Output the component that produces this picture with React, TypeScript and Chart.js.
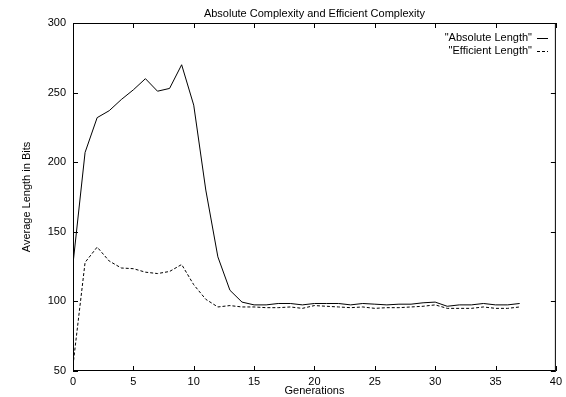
import React, { useEffect, useRef } from "react";
import { Chart, registerables } from "chart.js";

Chart.register(...registerables);

const generations = [
  0, 1, 2, 3, 4, 5, 6, 7, 8, 9, 10, 11, 12, 13, 14, 15, 16, 17, 18, 19,
  20, 21, 22, 23, 24, 25, 26, 27, 28, 29, 30, 31, 32, 33, 34, 35, 36, 37,
];
const absoluteLength = [
  127, 207, 232, 237, 245, 252, 260, 251, 253, 270, 241, 180, 132, 108, 99.5,
  97.5, 97.5, 98.5, 98.5, 97.5, 98.5, 98.5, 98.5, 97.5, 98.5, 98, 97.5, 98, 98,
  99, 99.5, 96.5, 97.5, 97.5, 98.5, 97.5, 97.5, 98.5,
];
const efficientLength = [
  54, 128, 139, 129, 124, 123.5, 121, 120, 121.5, 126.5, 112, 101.5, 96, 97,
  96, 96, 95.5, 95.5, 96, 95, 97, 96.5, 96, 95.5, 96, 95, 95.5, 95.5, 96, 96.5,
  97.5, 95, 95, 95, 96, 95, 95, 96,
];
const xTicks = [0, 5, 10, 15, 20, 25, 30, 35, 40];
const yTicks = [50, 100, 150, 200, 250, 300];
const chartTitle = "Absolute Complexity and Efficient Complexity";
const xTitle = "Generations";
const yTitle = "Average Length in Bits";
const seriesLabels = ['"Absolute Length"', '"Efficient Length"'];

const FONT = '"Liberation Sans", Arial, Helvetica, sans-serif';

const framePlugin = {
  id: "gnuplotFrame",
  afterDraw(chart: any) {
    const { ctx, chartArea } = chart;
    const { left, right, top, bottom } = chartArea;
    const xs = chart.scales.x;
    const ys = chart.scales.y;
    ctx.save();
    ctx.strokeStyle = "#000";
    ctx.lineWidth = 1;
    ctx.setLineDash([]);
    ctx.strokeRect(left + 0.5, top + 0.5, right - left - 1, bottom - top - 1);
    const tl = 5;
    ctx.beginPath();
    xTicks.forEach((v) => {
      const px = Math.round(xs.getPixelForValue(v)) + 0.5;
      ctx.moveTo(px, bottom);
      ctx.lineTo(px, bottom - tl);
      ctx.moveTo(px, top);
      ctx.lineTo(px, top + tl);
    });
    yTicks.forEach((v) => {
      const py = Math.round(ys.getPixelForValue(v)) + 0.5;
      ctx.moveTo(left, py);
      ctx.lineTo(left + tl, py);
      ctx.moveTo(right, py);
      ctx.lineTo(right - tl, py);
    });
    ctx.stroke();

    // texts
    ctx.fillStyle = "#000";
    ctx.font = `11px ${FONT}`;
    ctx.textAlign = "center";
    ctx.textBaseline = "middle";
    ctx.fillText(chartTitle, (left + right) / 2, 14);
    ctx.fillText(xTitle, (left + right) / 2, 391);
    ctx.save();
    ctx.translate(27, (top + bottom) / 2);
    ctx.rotate(-Math.PI / 2);
    ctx.fillText(yTitle, 0, 0);
    ctx.restore();

    // legend
    const legendY = [38, 51];
    ctx.textAlign = "right";
    seriesLabels.forEach((lbl, i) => {
      ctx.fillText(lbl, 532, legendY[i]);
      ctx.beginPath();
      ctx.setLineDash(i === 0 ? [] : [3, 2]);
      ctx.moveTo(537, legendY[i] + 0.5);
      ctx.lineTo(548, legendY[i] + 0.5);
      ctx.stroke();
    });
    ctx.restore();
  },
};

export default function App() {
  const canvasRef = useRef<HTMLCanvasElement | null>(null);

  useEffect(() => {
    const canvas = canvasRef.current;
    if (!canvas) return;
    const chart = new Chart(canvas, {
      type: "line",
      data: {
        datasets: [
          {
            label: seriesLabels[0],
            data: generations.map((g, i) => ({ x: g, y: absoluteLength[i] })),
            borderColor: "#000",
            borderWidth: 1,
            pointRadius: 0,
            tension: 0,
            fill: false,
          },
          {
            label: seriesLabels[1],
            data: generations.map((g, i) => ({ x: g, y: efficientLength[i] })),
            borderColor: "#000",
            borderWidth: 1,
            borderDash: [3, 2],
            pointRadius: 0,
            tension: 0,
            fill: false,
          },
        ],
      },
      options: {
        animation: false,
        responsive: false,
        maintainAspectRatio: false,
        devicePixelRatio: 1,
        layout: { padding: { top: 23, right: 10, left: 0, bottom: 0 } },
        plugins: {
          legend: { display: false },
          title: { display: false },
          tooltip: { enabled: false },
        },
        scales: {
          x: {
            type: "linear",
            min: 0,
            max: 40,
            afterFit: (s: any) => {
              s.height = 26;
            },
            afterBuildTicks: (s: any) => {
              s.ticks = xTicks.map((v) => ({ value: v }));
            },
            grid: { display: false, drawTicks: false },
            border: { display: false },
            ticks: {
              padding: 4,
              color: "#000",
              maxRotation: 0,
              autoSkip: false,
              font: { family: FONT, size: 11 },
            },
          },
          y: {
            type: "linear",
            min: 50,
            max: 300,
            afterFit: (s: any) => {
              s.width = 73;
            },
            afterBuildTicks: (s: any) => {
              s.ticks = yTicks.map((v) => ({ value: v }));
            },
            grid: { display: false, drawTicks: false },
            border: { display: false },
            ticks: {
              padding: 7,
              color: "#000",
              autoSkip: false,
              font: { family: FONT, size: 11 },
            },
          },
        },
      },
      plugins: [framePlugin],
    } as any);
    return () => chart.destroy();
  }, []);

  return (
    <div
      style={{
        position: "absolute",
        left: 0,
        top: 0,
        width: 566,
        height: 397,
        background: "#fff",
      }}
    >
      <canvas
        ref={canvasRef}
        width={566}
        height={397}
        style={{ width: 566, height: 397, display: "block" }}
      />
    </div>
  );
}
